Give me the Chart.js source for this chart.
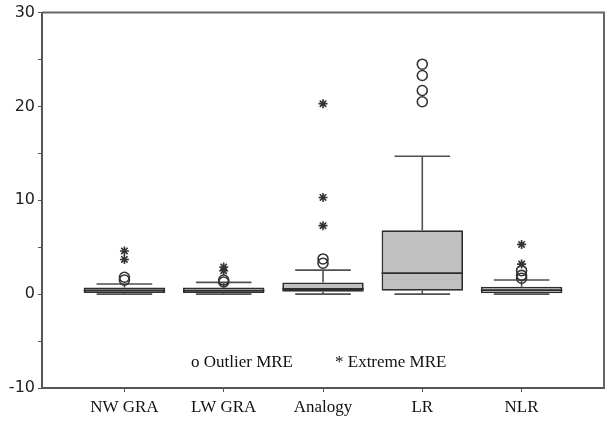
<!DOCTYPE html>
<html>
<head>
<meta charset="utf-8">
<script src="https://cdn.jsdelivr.net/npm/chart.js@4.4.0/dist/chart.umd.min.js"></script>
<style>
  html, body { margin: 0; padding: 0; background: #fff; }
</style>
</head>
<body>
<canvas id="mreChart" width="607" height="422"></canvas>
<script>
// box plot summary per model
const categories = ['NW GRA', 'LW GRA', 'Analogy', 'LR', 'NLR']
const whiskerLow = [0, 0, 0, 0, 0]
const q1 = [0.13, 0.12, 0.26, 0.37, 0.1]
const median = [0.4, 0.38, 0.55, 2.25, 0.42]
const q3 = [0.72, 0.72, 1.25, 6.8, 0.8]
const whiskerHigh = [1.08, 1.25, 2.56, 14.7, 1.5]
const outliers = [[1.8, 1.5], [1.5, 1.3], [3.75, 3.3], [24.5, 23.3, 21.7, 20.5], [2.5, 2.0, 1.7]]
const extremes = [[4.6, 3.7], [2.9, 2.5], [20.3, 10.3, 7.3], [], [5.3, 3.2]]
const yTicks = [-10, 0, 10, 20, 30]

const lineColor = '#505050'
const boxBorder = '#2e2e2e'

function toPoints(groups) {
    const pts = []
    groups.forEach((vals, i) => vals.forEach(v => pts.push({ x: i + 1, y: v })))
    return pts
}

// whiskers behind the boxes, medians and legend text on top
const boxExtras = {
    id: 'boxExtras',
    beforeDatasetsDraw(chart) {
        const { ctx, scales: { x, y } } = chart
        ctx.save()
        ctx.strokeStyle = lineColor
        ctx.lineWidth = 1.6
        categories.forEach((c, i) => {
            const cx = x.getPixelForValue(i + 1)
            const cap = x.getPixelForValue(i + 1.28) - cx
            ctx.beginPath()
            ctx.moveTo(cx, y.getPixelForValue(q3[i]))
            ctx.lineTo(cx, y.getPixelForValue(whiskerHigh[i]))
            ctx.moveTo(cx - cap, y.getPixelForValue(whiskerHigh[i]))
            ctx.lineTo(cx + cap, y.getPixelForValue(whiskerHigh[i]))
            ctx.moveTo(cx, y.getPixelForValue(q1[i]))
            ctx.lineTo(cx, y.getPixelForValue(whiskerLow[i]))
            ctx.moveTo(cx - cap, y.getPixelForValue(whiskerLow[i]))
            ctx.lineTo(cx + cap, y.getPixelForValue(whiskerLow[i]))
            ctx.stroke()
        })
        ctx.restore()
    },
    afterDatasetsDraw(chart) {
        const { ctx, scales: { x, y }, chartArea } = chart
        const meta = chart.getDatasetMeta(0)
        ctx.save()
        ctx.strokeStyle = boxBorder
        ctx.lineWidth = 1.8
        meta.data.forEach((bar, i) => {
            const py = y.getPixelForValue(median[i])
            ctx.beginPath()
            ctx.moveTo(bar.x - bar.width / 2, py)
            ctx.lineTo(bar.x + bar.width / 2, py)
            ctx.stroke()
        })

        // key text
        const mid = (chartArea.left + chartArea.right) / 2
        const ty = y.getPixelForValue(-7.3)
        ctx.fillStyle = '#111'
        ctx.font = '17px "Liberation Serif", serif'
        ctx.textBaseline = 'middle'
        ctx.textAlign = 'right'
        ctx.fillText('o Outlier MRE', mid - 30, ty)
        ctx.textAlign = 'left'
        ctx.fillText('* Extreme MRE', mid + 12, ty)

        // frame on top and right
        ctx.strokeStyle = '#666'
        ctx.lineWidth = 2
        ctx.beginPath()
        ctx.moveTo(chartArea.left, chartArea.top)
        ctx.lineTo(chartArea.right, chartArea.top)
        ctx.lineTo(chartArea.right, chartArea.bottom)
        ctx.stroke()
        ctx.restore()
    }
}

const ctx = document.getElementById('mreChart').getContext('2d')

var chart = new Chart(ctx, {
    type: 'bar',
    data: {
        datasets: [
            {
                type: 'bar',
                data: categories.map((c, i) => ({ x: i + 1, y: [q1[i], q3[i]] })),
                backgroundColor: '#c0c0c0',
                borderColor: boxBorder,
                borderWidth: 1.8,
                borderSkipped: false,
                barPercentage: 0.82,
                categoryPercentage: 1
            },
            {
                type: 'scatter',
                data: toPoints(outliers),
                pointStyle: 'circle',
                radius: 5,
                borderColor: '#333',
                backgroundColor: 'rgba(255,255,255,0)',
                borderWidth: 1.6
            },
            {
                type: 'scatter',
                data: toPoints(extremes),
                pointStyle: 'star',
                radius: 4.5,
                borderColor: '#333',
                borderWidth: 1.6
            }
        ]
    },
    plugins: [boxExtras],
    options: {
        responsive: false,
        animation: false,
        layout: { autoPadding: false, padding: { top: 10, right: 3, left: 0, bottom: 0 } },
        plugins: { legend: { display: false }, tooltip: { enabled: false } },
        scales: {
            x: {
                type: 'linear',
                offset: false,
                min: 0.17,
                max: 5.83,
                afterBuildTicks: s => { s.ticks = categories.map((c, i) => ({ value: i + 1 })) },
                afterFit: s => { s.height = 34 },
                border: { display: true, color: '#555', width: 2 },
                grid: { display: true, drawOnChartArea: false, drawTicks: true, tickLength: 4, color: '#555', offset: false },
                ticks: {
                    padding: 5,
                    maxRotation: 0,
                    autoSkip: false,
                    color: '#111',
                    font: { family: '"Liberation Serif", serif', size: 17 },
                    callback: v => categories[v - 1] || ''
                }
            },
            y: {
                min: -10,
                max: 30,
                afterBuildTicks: s => {
                    const t = []
                    for (let v = -10; v <= 30; v += 5) t.push({ value: v })
                    s.ticks = t
                },
                afterFit: s => { s.width = 42 },
                border: { display: true, color: '#555', width: 2 },
                grid: { display: true, drawOnChartArea: false, drawTicks: true, tickLength: 4, color: '#555' },
                ticks: {
                    padding: 3,
                    color: '#222',
                    font: { family: '"DejaVu Sans", sans-serif', size: 16 },
                    callback: v => yTicks.includes(v) ? String(v) : ''
                }
            }
        }
    }
})
</script>
</body>
</html>
